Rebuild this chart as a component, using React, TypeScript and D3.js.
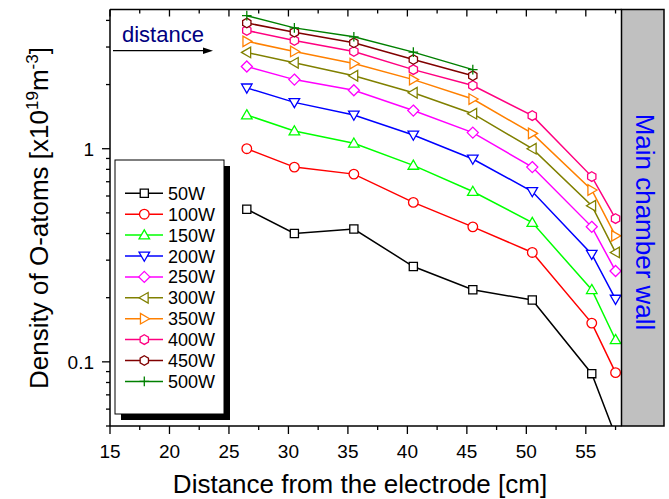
import React from "react";
import * as d3 from "d3";

const distances = [26.5, 30.5, 35.5, 40.5, 45.5, 50.5, 55.5, 57.5];
const seriesNames = ["50W", "100W", "150W", "200W", "250W", "300W", "350W", "400W", "450W", "500W"];
const s50 = [0.52, 0.40, 0.42, 0.28, 0.218, 0.195, 0.088, 0.045];
const s100 = [1.0, 0.82, 0.76, 0.56, 0.43, 0.326, 0.152, 0.089];
const s150 = [1.44, 1.21, 1.06, 0.835, 0.63, 0.45, 0.218, 0.127];
const s200 = [1.93, 1.65, 1.44, 1.16, 0.895, 0.63, 0.32, 0.197];
const s250 = [2.43, 2.11, 1.88, 1.51, 1.19, 0.82, 0.43, 0.267];
const s300 = [2.83, 2.53, 2.20, 1.83, 1.46, 1.0, 0.54, 0.326];
const s350 = [3.19, 2.86, 2.51, 2.11, 1.71, 1.18, 0.64, 0.39];
const s400 = [3.59, 3.22, 2.86, 2.35, 1.98, 1.43, 0.74, 0.47];
const s450 = [3.89, 3.52, 3.14, 2.62, 2.20];
const s500 = [4.21, 3.69, 3.35, 2.84, 2.35];
const seriesValues = [s50, s100, s150, s200, s250, s300, s350, s400, s450, s500];
const colors = ["#000000", "#ff0000", "#00ff00", "#0000ff", "#ff00ff", "#808000", "#ff8000", "#ff0080", "#800000", "#008000"];
const markers = ["square", "circle", "triUp", "triDown", "diamond", "triLeft", "triRight", "hexagon", "hexagon", "plus"];
const xMajorTicks = [15, 20, 25, 30, 35, 40, 45, 50, 55];
const yMajorTicks = [0.1, 1];
const yTickLabels = ["0.1", "1"];

const FONT = "'Liberation Sans', Arial, sans-serif";

function markerPath(type: string, s: number): string {
  const h = s;
  switch (type) {
    case "square":
      return `M${-h * 0.85},${-h * 0.85}H${h * 0.85}V${h * 0.85}H${-h * 0.85}Z`;
    case "circle":
      return `M${-h},0A${h},${h} 0 1,0 ${h},0A${h},${h} 0 1,0 ${-h},0Z`;
    case "triUp":
      return `M0,${-h * 1.1}L${h * 1.1},${h * 0.8}L${-h * 1.1},${h * 0.8}Z`;
    case "triDown":
      return `M0,${h * 1.1}L${h * 1.1},${-h * 0.8}L${-h * 1.1},${-h * 0.8}Z`;
    case "triLeft":
      return `M${-h * 1.1},0L${h * 0.8},${-h * 1.1}L${h * 0.8},${h * 1.1}Z`;
    case "triRight":
      return `M${h * 1.1},0L${-h * 0.8},${-h * 1.1}L${-h * 0.8},${h * 1.1}Z`;
    case "diamond":
      return `M0,${-h * 1.15}L${h * 1.15},0L0,${h * 1.15}L${-h * 1.15},0Z`;
    case "hexagon": {
      const pts = d3.range(6).map((i) => {
        const a = (Math.PI / 3) * i - Math.PI / 2;
        return [Math.cos(a) * h, Math.sin(a) * h];
      });
      return "M" + pts.map((p) => p.join(",")).join("L") + "Z";
    }
    case "plus":
      return `M${-h},0H${h}M0,${-h}V${h}`;
    default:
      return "";
  }
}

export default function App() {
  const W = 669, H = 499;
  const left = 110, right = 621.5, top = 9.5, bottom = 426;
  const x = d3.scaleLinear().domain([15, 58]).range([left, right]);
  const y = d3.scaleLog().domain([0.05, 4.5]).range([bottom, top]);

  const xMinor = d3.range(15, 58.01, 2.5).filter((v) => !xMajorTicks.includes(v));
  const yMinor: number[] = [];
  [0.01, 0.1, 1].forEach((dec) => {
    for (let k = 2; k <= 9; k++) {
      const v = dec * k;
      if (v >= 0.05 && v <= 4.5) yMinor.push(v);
    }
  });

  const line = d3
    .line<[number, number]>()
    .x((d) => x(d[0]))
    .y((d) => y(d[1]));

  const legendX = 115, legendY = 160, legendW = 109, legendH = 254;
  const legendRow0 = 193.3, legendStep = 20.9;

  return (
    <svg width={W} height={H} style={{ position: "absolute", left: 0, top: 0, display: "block" }} fontFamily={FONT}>
      <defs>
        <clipPath id="plotClip">
          <rect x={left} y={top} width={right - left + 6} height={bottom - top} />
        </clipPath>
      </defs>
      <rect x={0} y={0} width={W} height={H} fill="#ffffff" />

      {/* series */}
      <g clipPath="url(#plotClip)">
        {seriesValues.map((vals, i) => {
          const pts = vals.map((v, j) => [distances[j], v] as [number, number]);
          return (
            <g key={seriesNames[i]}>
              <path d={line(pts) || ""} fill="none" stroke={colors[i]} strokeWidth={1.5} />
              {pts.map((p, j) => (
                <path
                  key={j}
                  d={markerPath(markers[i], 4.8)}
                  transform={`translate(${x(p[0])},${y(p[1])})`}
                  fill={markers[i] === "plus" ? "none" : "#ffffff"}
                  stroke={colors[i]}
                  strokeWidth={1.3}
                />
              ))}
            </g>
          );
        })}
      </g>

      {/* gray wall */}
      <rect x={right} y={top} width={664 - right} height={bottom - top} fill="#c0c0c0" stroke="#000" strokeWidth={1.5} />
      <text
        transform={`translate(636,222) rotate(90)`}
        textAnchor="middle"
        fontSize={26}
        fill="#0000ff"
      >
        Main chamber wall
      </text>

      {/* axes frame */}
      <line x1={left} y1={top} x2={right} y2={top} stroke="#000" strokeWidth={1.5} />
      <line x1={left} y1={bottom} x2={right} y2={bottom} stroke="#000" strokeWidth={1.5} />
      <line x1={left} y1={top} x2={left} y2={bottom} stroke="#000" strokeWidth={1.5} />

      {/* x ticks */}
      {xMajorTicks.map((v) => (
        <g key={"xm" + v}>
          <line x1={x(v)} x2={x(v)} y1={bottom} y2={bottom + 8} stroke="#000" strokeWidth={1.3} />
          <line x1={x(v)} x2={x(v)} y1={top} y2={top + 7} stroke="#000" strokeWidth={1.3} />
          <text x={x(v)} y={458} textAnchor="middle" fontSize={19} fill="#000">
            {v}
          </text>
        </g>
      ))}
      {xMinor.map((v) => (
        <g key={"xn" + v}>
          <line x1={x(v)} x2={x(v)} y1={bottom} y2={bottom + 4} stroke="#000" strokeWidth={1.3} />
          <line x1={x(v)} x2={x(v)} y1={top} y2={top + 4} stroke="#000" strokeWidth={1.3} />
        </g>
      ))}

      {/* y ticks */}
      {yMajorTicks.map((v, i) => (
        <g key={"ym" + v}>
          <line x1={left - 8} x2={left} y1={y(v)} y2={y(v)} stroke="#000" strokeWidth={1.3} />
          <text x={94} y={y(v) + 7} textAnchor="end" fontSize={19} fill="#000">
            {yTickLabels[i]}
          </text>
        </g>
      ))}
      {yMinor.map((v) => (
        <line key={"yn" + v} x1={left - 4} x2={left} y1={y(v)} y2={y(v)} stroke="#000" strokeWidth={1.3} />
      ))}

      {/* axis titles */}
      <text x={360} y={493} textAnchor="middle" fontSize={26} fill="#000">
        Distance from the electrode [cm]
      </text>
      <text transform="translate(48,218) rotate(-90)" textAnchor="middle" fontSize={26} fill="#000">
        Density of O-atoms [x10
        <tspan dy={-10} fontSize={17}>19</tspan>
        <tspan dy={10}>m</tspan>
        <tspan dy={-10} fontSize={17}>-3</tspan>
        <tspan dy={10}>]</tspan>
      </text>

      {/* distance arrow */}
      <text x={122} y={42} fontSize={22} fill="#000080">
        distance
      </text>
      <line x1={113} y1={50.7} x2={204} y2={50.7} stroke="#000" strokeWidth={1.2} />
      <path d="M203,47.5L213,50.7L203,53.9Z" fill="#000" />

      {/* legend */}
      <rect x={legendX + 6} y={legendY + 6} width={legendW} height={legendH} fill="#000" />
      <rect x={legendX} y={legendY} width={legendW} height={legendH} fill="#fff" stroke="#000" strokeWidth={1} />
      {seriesNames.map((name, i) => {
        const ly = legendRow0 + i * legendStep;
        return (
          <g key={"lg" + name}>
            <line x1={125} x2={163} y1={ly} y2={ly} stroke={colors[i]} strokeWidth={1.5} />
            <path
              d={markerPath(markers[i], 4.8)}
              transform={`translate(144.3,${ly})`}
              fill={markers[i] === "plus" ? "none" : "#ffffff"}
              stroke={colors[i]}
              strokeWidth={1.3}
            />
            <text x={168} y={ly + 6.5} fontSize={18} fill="#000">
              {name}
            </text>
          </g>
        );
      })}
    </svg>
  );
}
